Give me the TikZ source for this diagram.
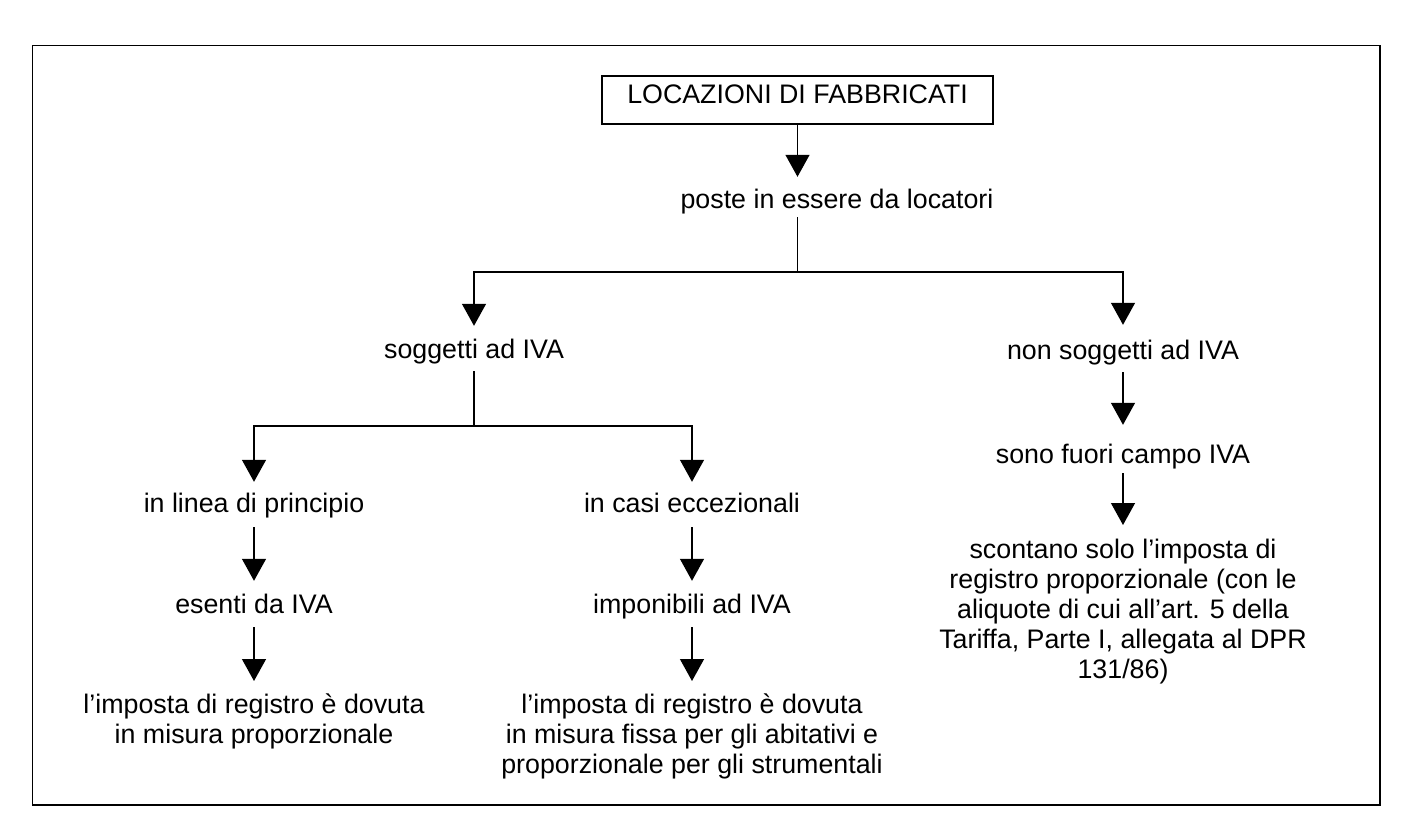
\documentclass[tikz,border=0pt]{standalone}
\usepackage{fontspec}
\setmainfont{Liberation Sans}
\usetikzlibrary{arrows.meta}
\begin{document}
\begin{tikzpicture}[x=1pt,y=-1pt,
  txt/.style={inner sep=0pt, text height=19pt, text depth=5pt, anchor=base, font=\fontsize{26.8}{30}\selectfont},
  mtxt/.style={inner sep=0pt, align=center, anchor=north, font=\fontsize{26.8}{30}\selectfont},
  conn/.style={line width=1.3pt, draw=black},
  arr/.style={conn, -{Triangle[width=24pt,length=22pt]}},
]
\useasboundingbox (0,0) rectangle (1417,822);
\draw[line width=1.8pt] (32.5,45.5) rectangle (1380,805);

\node[draw, line width=1.5pt, minimum width=391pt, minimum height=48pt, inner sep=0pt,
      text height=19pt, text depth=13pt, font=\fontsize{26.8}{30}\selectfont]
      (title) at (797.5,100) {LOCAZIONI DI FABBRICATI};

\node[txt] (poste) at (837,208) {poste in essere da locatori};
\node[txt] (sogg) at (474,358) {soggetti ad IVA};
\node[txt] (nonsogg) at (1123,359) {non soggetti ad IVA};
\node[txt] (linea) at (254,512) {in linea di principio};
\node[txt] (casi) at (692,512) {in casi eccezionali};
\node[txt] (esenti) at (254,613) {esenti da IVA};
\node[txt] (impon) at (692,613) {imponibili ad IVA};
\node[txt] (sono) at (1123,463) {sono fuori campo IVA};
\node[mtxt] (bl) at (254,694) {\rule{0pt}{19pt}l’imposta di registro è dovuta\\in misura proporzionale};
\node[mtxt] (bm) at (692,694) {\rule{0pt}{19pt}l’imposta di registro è dovuta\\in misura fissa per gli abitativi e\\proporzionale per gli strumentali};
\node[mtxt] (br) at (1123,539) {\rule{0pt}{19pt}scontano solo l’imposta di\\registro proporzionale (con le\\aliquote di cui all’art. 5 della\\Tariffa, Parte I, allegata al DPR\\131/86)};

\coordinate (j1) at (797.5,272);
\coordinate (j2) at (474,426);

\draw[arr, shorten >=12pt] (title.south) -- (title.south |- poste.north);
\draw[conn, shorten <=4pt] (j1 |- poste.south) -- (j1);
\draw[arr, shorten >=13pt] (j1) -| (sogg.north);
\draw[arr, shorten >=15pt] (j1) -| (nonsogg.north);
\draw[conn, shorten <=8pt] (sogg.south) -- (j2);
\draw[arr, shorten >=11pt] (j2) -| (linea.north);
\draw[arr, shorten >=11pt] (j2) -| (casi.north);
\draw[arr, shorten <=10pt, shorten >=13pt] (linea.south) -- (esenti.north);
\draw[arr, shorten <=10pt, shorten >=13pt] (casi.south) -- (impon.north);
\draw[arr, shorten <=9pt, shorten >=13pt] (esenti.south) -- (esenti.south |- bl.north);
\draw[arr, shorten <=9pt, shorten >=13pt] (impon.south) -- (impon.south |- bm.north);
\draw[arr, shorten <=8pt, shorten >=19pt] (nonsogg.south) -- (sono.north);
\draw[arr, shorten <=5pt, shorten >=14pt] (sono.south) -- (br.north);
\end{tikzpicture}
\end{document}
